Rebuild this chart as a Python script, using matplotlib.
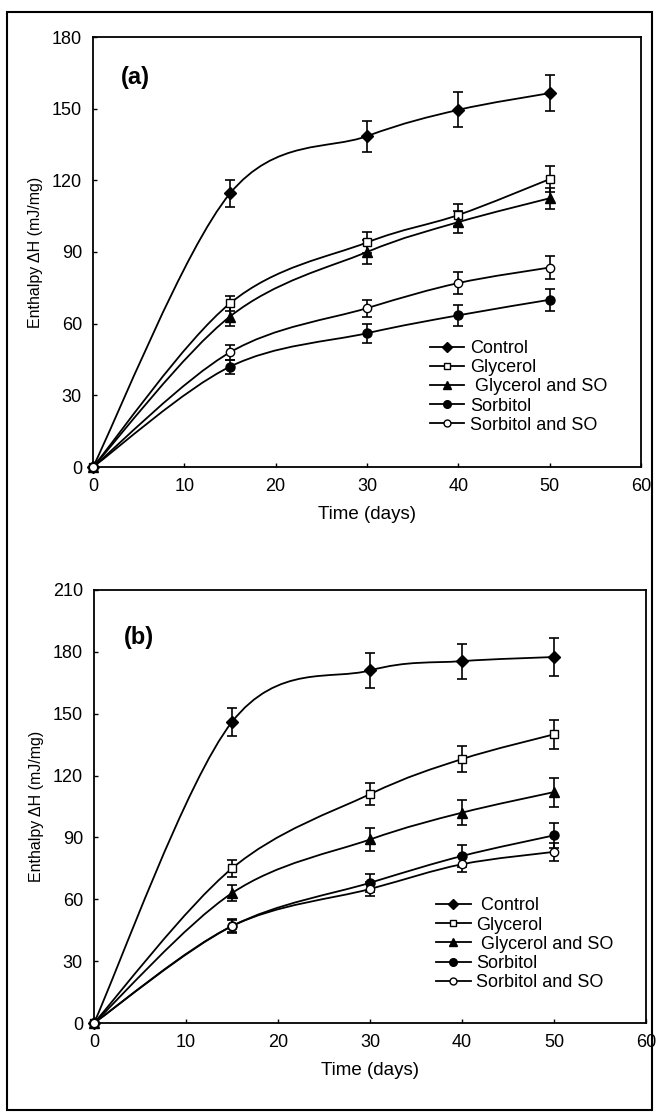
import numpy as np
import matplotlib
matplotlib.use("Agg")
import matplotlib.pyplot as plt
from matplotlib.path import Path
from matplotlib.patches import PathPatch, Rectangle
from matplotlib.lines import Line2D

plt.rcParams["font.family"] = ["Liberation Sans", "DejaVu Sans"]

days = [0, 15, 30, 40, 50]
labels = ["Control", "Glycerol", " Glycerol and SO", "Sorbitol", "Sorbitol and SO"]
labels_b = [" Control", "Glycerol", " Glycerol and SO", "Sorbitol", "Sorbitol and SO"]

# panel (a)
control_a = [0, 114.5, 138.5, 149.5, 156.5]
glycerol_a = [0, 68.5, 94, 105.5, 120.5]
glycerol_so_a = [0, 63, 90, 102.5, 112.5]
sorbitol_a = [0, 42, 56, 63.5, 70]
sorbitol_so_a = [0, 48, 66.5, 77, 83.5]
control_a_err = [0, 5.5, 6.5, 7.3, 7.5]
glycerol_a_err = [0, 3, 4.5, 4.5, 5.5]
glycerol_so_a_err = [0, 4, 5, 4.5, 4.5]
sorbitol_a_err = [0, 3, 4, 4.5, 4.5]
sorbitol_so_a_err = [0, 3, 3.5, 4.5, 5]

# panel (b)
control_b = [0, 146, 171, 175.5, 177.5]
glycerol_b = [0, 75, 111, 128, 140]
glycerol_so_b = [0, 63, 89, 102, 112]
sorbitol_b = [0, 47, 68, 81, 91]
sorbitol_so_b = [0, 47, 65, 77, 83]
control_b_err = [0, 7, 8.5, 8.5, 9]
glycerol_b_err = [0, 4, 5.5, 6.5, 7]
glycerol_so_b_err = [0, 4, 5.5, 6, 7]
sorbitol_b_err = [0, 3.5, 4.5, 5.5, 6]
sorbitol_so_b_err = [0, 3, 3.5, 4, 4.5]

MARKERS = [
    dict(marker="D", markersize=6, markerfacecolor="k"),
    dict(marker="s", markersize=6, markerfacecolor="white"),
    dict(marker="^", markersize=7, markerfacecolor="k"),
    dict(marker="o", markersize=6.5, markerfacecolor="k"),
    dict(marker="o", markersize=6, markerfacecolor="white"),
]

W, H = 658, 1114


def box(left, top, right, bottom):
    return [left / W, 1 - bottom / H, (right - left) / W, (bottom - top) / H]


def smooth_path(x, y):
    """Excel-like smoothed line: Catmull-Rom turned into cubic Beziers."""
    pts = np.column_stack([x, y]).astype(float)
    n = len(pts)
    verts = [pts[0]]
    codes = [Path.MOVETO]
    for i in range(n - 1):
        p0 = pts[max(i - 1, 0)]
        p1 = pts[i]
        p2 = pts[i + 1]
        p3 = pts[min(i + 2, n - 1)]
        verts += [p1 + (p2 - p0) / 6, p2 - (p3 - p1) / 6, p2]
        codes += [Path.CURVE4] * 3
    return Path(verts, codes)


def draw_panel(ax, series, errors, ymax, tag, tag_xy, leg_labels, leg_anchor):
    for y, err, mk in zip(series, errors, MARKERS):
        ax.add_patch(PathPatch(smooth_path(days, y), facecolor="none",
                               edgecolor="k", lw=1.3, zorder=2))
        ax.errorbar(days[1:], y[1:], yerr=err[1:], fmt="none", ecolor="k",
                    elinewidth=1.2, capsize=3.5, capthick=1.2, zorder=3)
        ax.plot(days, y, linestyle="none", color="k", markeredgecolor="k",
                markeredgewidth=1.0, zorder=4, clip_on=False, **mk)

    ax.set_xlim(0, 60)
    ax.set_ylim(0, ymax)
    ax.set_xticks(range(0, 61, 10))
    ax.set_yticks(range(0, ymax + 1, 30))
    ax.tick_params(direction="in", length=3, width=1, labelsize=13, pad=8)
    for s in ax.spines.values():
        s.set_linewidth(1.3)
    ax.set_xlabel("Time (days)", fontsize=13.5, labelpad=8)
    ax.set_ylabel("Enthalpy \u0394H (mJ/mg)", fontsize=11.5, labelpad=6)
    ax.text(tag_xy[0], tag_xy[1], tag, fontsize=17, fontweight="bold",
            va="center", ha="left")

    handles = [Line2D([], [], color="k", lw=1.3, markeredgecolor="k",
                      markeredgewidth=1.0, **dict(mk, markersize=mk["markersize"] - 1))
               for mk in MARKERS]
    ax.legend(handles, leg_labels, loc="upper left", bbox_to_anchor=leg_anchor,
              frameon=False, fontsize=13, handlelength=1.9, handletextpad=0.3,
              labelspacing=0.12, borderpad=0, borderaxespad=0)


fig = plt.figure(figsize=(6.58, 11.14), dpi=100)

ax_a = fig.add_axes(box(93, 37, 641, 467))
draw_panel(ax_a,
           [control_a, glycerol_a, glycerol_so_a, sorbitol_a, sorbitol_so_a],
           [control_a_err, glycerol_a_err, glycerol_so_a_err, sorbitol_a_err, sorbitol_so_a_err],
           180, "(a)", (3.0, 163), labels, (0.615, 0.295))

ax_b = fig.add_axes(box(94, 590, 646, 1023))
draw_panel(ax_b,
           [control_b, glycerol_b, glycerol_so_b, sorbitol_b, sorbitol_so_b],
           [control_b_err, glycerol_b_err, glycerol_so_b_err, sorbitol_b_err, sorbitol_so_b_err],
           210, "(b)", (3.3, 187), labels_b, (0.62, 0.29))

fig.patches.append(Rectangle((7 / W, 1 - 1110 / H), 645 / W, 1098 / H,
                             transform=fig.transFigure, fill=False,
                             edgecolor="k", lw=1.5))

fig.savefig("out.png", dpi=100)
